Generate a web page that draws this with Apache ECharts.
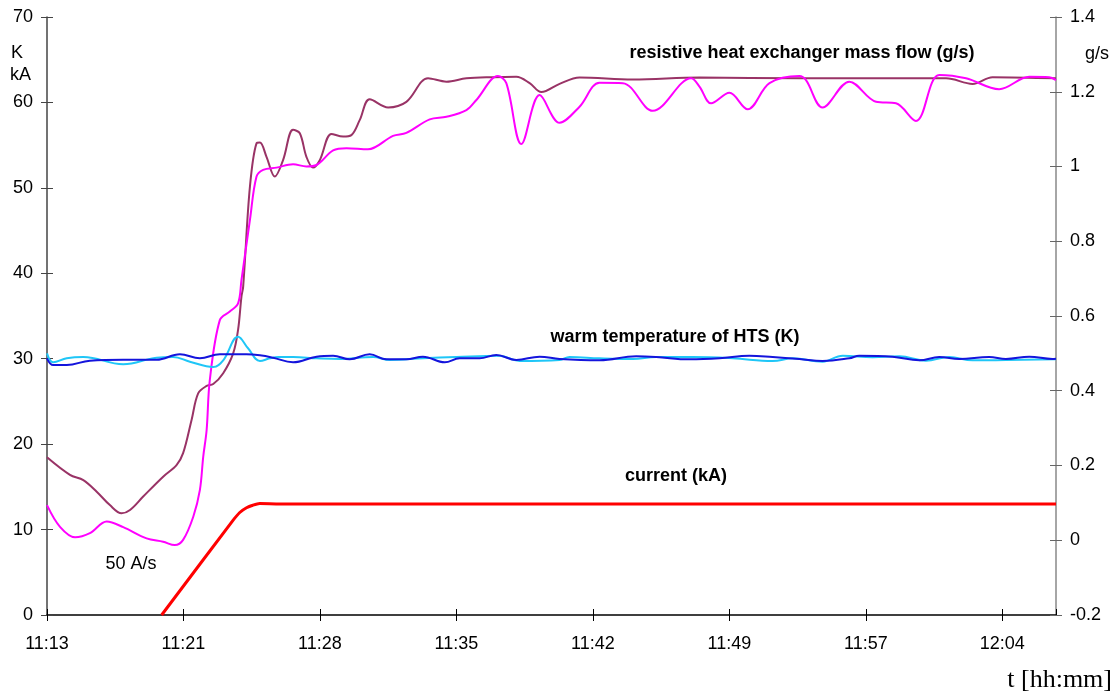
<!DOCTYPE html>
<html>
<head>
<meta charset="utf-8">
<script src="https://cdn.jsdelivr.net/npm/echarts@6/dist/echarts.min.js"></script>
<style>
  html, body { margin: 0; padding: 0; background: #fff; }
  #chart { width: 1117px; height: 697px; }
</style>
</head>
<body>
<div id="chart"></div>
<script>
// x values are minutes after the left edge of the axis (about 11:13:50)
const tickLabels = ['11:13', '11:21', '11:28', '11:35', '11:42', '11:49', '11:57', '12:04']
const tickStep = 7.25
const tMax = 53.6

// current (kA), left axis
const currentData = [
  [6.09, 0], [9.89, 11.1], [10.24, 12.0], [10.6, 12.55], [10.93, 12.85], [11.3, 13.05],
  [12.37, 13.0], [53.6, 13.0]
]

// warm temperature of HTS (K), left axis
const tempBlue = [
  [0, 30.05], [0.33, 29.26], [1.05, 29.26], [2.28, 29.77], [4.05, 29.88], [5.82, 29.88],
  [7.06, 30.52], [8.12, 30.05], [9.18, 30.52], [10.6, 30.52], [11.31, 30.4], [12.01, 30.12],
  [13.07, 29.58], [14.32, 30.24], [15.2, 30.35], [16.08, 29.93], [17.14, 30.52], [18.03, 29.93],
  [19.09, 29.93], [19.97, 30.24], [21.13, 29.58], [21.92, 30.05], [22.98, 30.05], [23.87, 30.43],
  [24.93, 29.85], [26.17, 30.24], [27.23, 29.97], [29.35, 29.81], [31.3, 30.28], [32.36, 30.2],
  [34.13, 29.93], [35.72, 30.05], [37.31, 30.35], [38.55, 30.2], [39.97, 29.97], [41.2, 29.73],
  [42.62, 30.05], [43.15, 30.35], [44.92, 30.24], [46.34, 29.81], [47.4, 30.2], [48.46, 29.97],
  [50.05, 30.2], [50.94, 29.97], [52.18, 30.24], [53.41, 29.97], [53.6, 30.0]
]
const tempCyan = [
  [0, 30.63], [0.33, 29.58], [1.05, 30.05], [1.93, 30.2], [4.05, 29.35], [5.82, 30.12],
  [6.7, 30.2], [7.59, 29.65], [8.83, 29.03], [9.36, 29.81], [10.15, 32.58], [10.68, 31.22],
  [11.31, 29.73], [11.84, 30.05], [12.3, 30.2], [13.07, 30.2], [14.32, 30.05], [15.55, 29.97],
  [17.32, 30.2], [18.21, 29.85], [19.97, 30.05], [21.75, 30.2], [24.04, 30.35], [25.11, 29.73],
  [27.23, 29.85], [27.76, 30.2], [29.35, 30.05], [31.12, 29.97], [32.36, 30.2], [34.3, 30.2],
  [36.43, 30.05], [38.55, 29.73], [39.61, 30.05], [41.2, 29.65], [42.27, 30.35], [43.86, 30.17],
  [45.28, 30.28], [46.69, 29.77], [47.93, 30.2], [49.17, 29.81], [50.94, 29.85], [53.6, 29.93]
]

// resistive heat exchanger mass flow (g/s), right axis
const flowMaroon = [
  [0, 0.222], [1.22, 0.175], [1.93, 0.161], [2.64, 0.13], [3.34, 0.094], [3.96, 0.072],
  [4.41, 0.081], [5.11, 0.117], [6.17, 0.17], [6.88, 0.201], [7.23, 0.233], [7.68, 0.322],
  [8.03, 0.393], [8.48, 0.413], [8.83, 0.418], [9.36, 0.447], [9.89, 0.5], [10.15, 0.563],
  [10.33, 0.652], [10.42, 0.678], [10.78, 0.946], [11.13, 1.062], [11.31, 1.064], [11.66, 1.026],
  [12.1, 0.973], [12.54, 1.017], [13.07, 1.098], [13.43, 1.089], [13.78, 1.026], [14.13, 0.997],
  [14.49, 1.017], [15.11, 1.087], [15.73, 1.08], [16.17, 1.084], [16.61, 1.124], [17.14, 1.18],
  [18.12, 1.158], [19.09, 1.173], [20.24, 1.236], [21.22, 1.227], [22.28, 1.236], [23.69, 1.239],
  [24.93, 1.24], [25.64, 1.223], [26.26, 1.199], [27.23, 1.221], [28.29, 1.238], [31.12, 1.233],
  [34.66, 1.238], [40.0, 1.236], [47.76, 1.236], [49.17, 1.221], [50.23, 1.239], [53.6, 1.236]
]
const flowMagenta = [
  [0, 0.094], [0.69, 0.036], [1.49, 0.008], [2.28, 0.019], [3.17, 0.05], [4.05, 0.035],
  [5.29, 0.005], [6.17, -0.004], [6.79, -0.013], [7.23, 0.001], [7.77, 0.063], [8.12, 0.134],
  [8.3, 0.224], [8.48, 0.295], [8.65, 0.429], [9.18, 0.589], [9.71, 0.612], [10.15, 0.634],
  [10.33, 0.696], [10.78, 0.857], [11.13, 0.973], [11.48, 0.991], [12.19, 0.997], [13.07, 1.006],
  [13.78, 1.0], [14.32, 1.004], [15.2, 1.043], [15.91, 1.049], [17.05, 1.046], [18.38, 1.082],
  [19.09, 1.09], [20.33, 1.126], [21.22, 1.133], [22.28, 1.151], [22.81, 1.178], [23.95, 1.242],
  [24.4, 1.223], [25.2, 1.06], [26.17, 1.191], [27.23, 1.117], [28.29, 1.16], [29.35, 1.224],
  [30.59, 1.223], [32.18, 1.149], [34.22, 1.236], [34.66, 1.214], [35.28, 1.169], [36.25, 1.197],
  [37.22, 1.153], [38.38, 1.223], [39.97, 1.242], [40.32, 1.231], [41.2, 1.158], [42.62, 1.227],
  [44.04, 1.173], [45.1, 1.169], [46.16, 1.122], [47.4, 1.245], [48.82, 1.236], [50.58, 1.207],
  [52.18, 1.24], [53.24, 1.239], [53.6, 1.231]
]

const font = 'Liberation Sans, Arial, sans-serif'
const chart = echarts.init(document.getElementById('chart'))

const xLabel = v => {
  const i = Math.round(v / tickStep)
  return Math.abs(v - i * tickStep) < 0.01 && tickLabels[i] ? tickLabels[i] : ''
}
const flowLabel = v => String(parseFloat(v.toFixed(1)))

// each axis is declared twice: once with outside ticks, once with inside ticks,
// so the ticks cross the axis line like in the original
const baseX = {
  type: 'value', min: 0, max: tMax, interval: tickStep, position: 'bottom',
  splitLine: { show: false }
}
const leftY = { type: 'value', min: 0, max: 70, interval: 10, position: 'left', splitLine: { show: false } }
const rightY = { type: 'value', min: -0.2, max: 1.4, interval: 0.2, position: 'right', splitLine: { show: false } }

const option = {
  animation: false,
  backgroundColor: '#fff',
  grid: { left: 47, right: 61, top: 17, bottom: 82, containLabel: false },
  xAxis: [
    {
      ...baseX,
      axisLine: { onZero: false, lineStyle: { color: '#000', width: 1.5 } },
      axisTick: { length: 6, lineStyle: { color: '#000' } },
      axisLabel: { formatter: xLabel, color: '#000', fontSize: 18, fontFamily: font, margin: 20, showMaxLabel: false }
    },
    {
      ...baseX,
      axisLine: { show: false, onZero: false },
      axisTick: { inside: true, length: 6, lineStyle: { color: '#000' } },
      axisLabel: { show: false }
    }
  ],
  yAxis: [
    {
      ...leftY,
      axisLine: { show: true, onZero: false, lineStyle: { color: '#444', width: 1.5 } },
      axisTick: { show: true, length: 6, lineStyle: { color: '#444' } },
      axisLabel: { color: '#000', fontSize: 18, fontFamily: font, margin: 14 }
    },
    {
      ...rightY,
      axisLine: { show: true, onZero: false, lineStyle: { color: '#888', width: 1.5 } },
      axisTick: { show: true, length: 6, lineStyle: { color: '#666' } },
      axisLabel: { color: '#000', fontSize: 18, fontFamily: font, margin: 14, formatter: flowLabel }
    },
    {
      ...leftY,
      axisLine: { show: false, onZero: false },
      axisTick: { show: true, inside: true, length: 6, lineStyle: { color: '#444' } },
      axisLabel: { show: false }
    },
    {
      ...rightY,
      axisLine: { show: false, onZero: false },
      axisTick: { show: true, inside: true, length: 6, lineStyle: { color: '#666' } },
      axisLabel: { show: false }
    }
  ],
  series: [
    {
      name: 'mass flow 2',
      type: 'line',
      yAxisIndex: 1,
      data: flowMaroon,
      smooth: 0.35,
      symbol: 'none',
      lineStyle: { color: '#993366', width: 2 }
    },
    {
      name: 'mass flow 1',
      type: 'line',
      yAxisIndex: 1,
      data: flowMagenta,
      smooth: 0.35,
      symbol: 'none',
      lineStyle: { color: '#ff00ff', width: 2 }
    },
    {
      name: 'temperature 2',
      type: 'line',
      data: tempCyan,
      smooth: 0.4,
      symbol: 'none',
      lineStyle: { color: '#1fc6f7', width: 2 }
    },
    {
      name: 'temperature 1',
      type: 'line',
      data: tempBlue,
      smooth: 0.4,
      symbol: 'none',
      lineStyle: { color: '#1414dc', width: 2 }
    },
    {
      name: 'current',
      type: 'line',
      data: currentData,
      smooth: 0.25,
      symbol: 'none',
      lineStyle: { color: '#ff0000', width: 3 }
    }
  ],
  graphic: [
    { type: 'text', style: { text: 'K', x: 11, y: 53, font: '18px ' + font, fill: '#000', textAlign: 'left', textVerticalAlign: 'middle' } },
    { type: 'text', style: { text: 'kA', x: 10, y: 75, font: '18px ' + font, fill: '#000', textAlign: 'left', textVerticalAlign: 'middle' } },
    { type: 'text', style: { text: 'g/s', x: 1085, y: 54, font: '18px ' + font, fill: '#000', textAlign: 'left', textVerticalAlign: 'middle' } },
    { type: 'text', style: { text: 'resistive heat exchanger mass flow (g/s)', x: 802, y: 53, font: 'bold 18px ' + font, fill: '#000', textAlign: 'center', textVerticalAlign: 'middle' } },
    { type: 'text', style: { text: 'warm temperature of HTS (K)', x: 675, y: 337, font: 'bold 18px ' + font, fill: '#000', textAlign: 'center', textVerticalAlign: 'middle' } },
    { type: 'text', style: { text: 'current (kA)', x: 676, y: 476, font: 'bold 18px ' + font, fill: '#000', textAlign: 'center', textVerticalAlign: 'middle' } },
    { type: 'text', style: { text: '50 A/s', x: 131, y: 564, font: '18px ' + font, fill: '#000', textAlign: 'center', textVerticalAlign: 'middle' } },
    { type: 'text', style: { text: 't [hh:mm]', x: 1112, y: 680, font: '26px Liberation Serif, Times New Roman, serif', fill: '#000', textAlign: 'right', textVerticalAlign: 'middle' } }
  ]
}

chart.setOption(option)
window.addEventListener('resize', () => chart.resize())
</script>
</body>
</html>
